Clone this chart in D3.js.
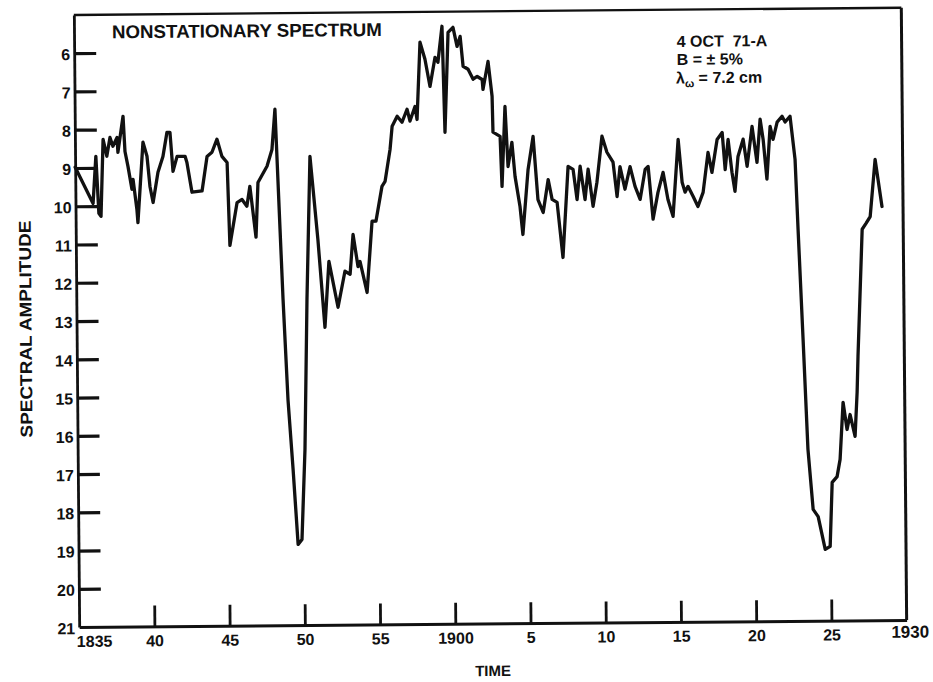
<!DOCTYPE html>
<html>
<head>
<meta charset="utf-8">
<script src="https://cdn.jsdelivr.net/npm/d3@7"></script>
<style>
  html, body { margin: 0; padding: 0; background: #fff; }
  svg { display: block; }
  text { font-family: "Liberation Sans", Arial, Helvetica, sans-serif; font-weight: bold; fill: #111; }
</style>
</head>
<body>
<svg id="chart" width="933" height="682"></svg>
<script>
// Spectral amplitude through time (years on the plot's time axis)
const years = [
  1875.00, 1876.17, 1876.38, 1876.55, 1876.69, 1876.87, 1877.11, 1877.33, 1877.52, 1877.80,
  1877.85, 1878.21, 1878.32, 1878.51, 1878.76, 1878.84, 1879.08, 1879.14, 1879.52, 1879.78,
  1879.96, 1880.16, 1880.50, 1880.84, 1881.12, 1881.32, 1881.50, 1881.78, 1882.31, 1882.43,
  1882.75, 1883.42, 1883.77, 1884.10, 1884.44, 1884.76, 1885.10, 1885.24, 1885.74, 1886.07,
  1886.39, 1886.60, 1886.98, 1887.14, 1887.75, 1888.09, 1888.31, 1888.58, 1888.74, 1889.01,
  1889.31, 1889.60, 1889.86, 1890.11, 1890.33, 1890.61, 1891.09, 1891.51, 1891.81, 1892.39,
  1892.87, 1893.21, 1893.43, 1893.74, 1893.88, 1894.33, 1894.70, 1894.96, 1895.38, 1895.59,
  1895.94, 1896.09, 1896.43, 1896.75, 1897.09, 1897.28, 1897.62, 1897.75, 1897.99, 1898.31,
  1898.63, 1898.98, 1899.17, 1899.46, 1899.60, 1899.86, 1900.19, 1900.45, 1900.66, 1900.84,
  1901.17, 1901.50, 1901.77, 1902.10, 1902.15, 1902.50, 1902.75, 1902.79, 1903.26, 1903.36,
  1903.60, 1903.77, 1904.04, 1904.23, 1904.54, 1904.72, 1905.10, 1905.45, 1905.74, 1906.08,
  1906.43, 1906.68, 1907.01, 1907.37, 1907.76, 1908.09, 1908.34, 1908.56, 1908.87, 1909.09,
  1909.40, 1909.67, 1910.03, 1910.35, 1910.75, 1911.00, 1911.21, 1911.53, 1911.88, 1912.20,
  1912.53, 1912.88, 1913.08, 1913.38, 1913.72, 1914.07, 1914.38, 1914.71, 1915.09, 1915.33,
  1915.52, 1915.72, 1916.05, 1916.37, 1916.72, 1917.07, 1917.32, 1917.68, 1918.02, 1918.20,
  1918.41, 1918.65, 1918.84, 1919.06, 1919.41, 1919.66, 1920.01, 1920.32, 1920.55, 1920.74,
  1920.97, 1921.21, 1921.40, 1921.68, 1922.01, 1922.21, 1922.54, 1922.85, 1923.01, 1923.28,
  1923.54, 1923.85, 1924.18, 1924.63, 1924.96, 1925.13, 1925.46, 1925.67, 1925.90, 1926.15,
  1926.36, 1926.68, 1926.84, 1926.92, 1927.27, 1927.53, 1927.81, 1928.17, 1928.60
];
const amplitude = [
  8.98, 9.93, 8.70, 10.19, 10.27, 8.26, 8.70, 8.21, 8.44, 8.21,
  8.60, 7.66, 8.58, 8.97, 9.57, 9.31, 10.10, 10.44, 8.34, 8.71,
  9.50, 9.92, 9.13, 8.72, 8.09, 8.09, 9.11, 8.72, 8.72, 8.88,
  9.66, 9.63, 8.73, 8.62, 8.28, 8.73, 8.89, 11.06, 9.94, 9.86,
  10.04, 9.52, 10.85, 9.42, 9.00, 8.56, 7.51, 10.65, 12.48, 15.10,
  16.93, 18.89, 18.76, 16.41, 12.49, 8.75, 10.92, 13.22, 11.50, 12.70,
  11.76, 11.84, 10.80, 11.64, 11.51, 12.32, 10.46, 10.46, 9.55, 9.42,
  8.58, 7.98, 7.72, 7.88, 7.54, 7.85, 7.47, 7.81, 5.79, 6.24,
  6.95, 6.19, 6.32, 5.38, 8.15, 5.54, 5.41, 5.91, 5.65, 6.43,
  6.51, 6.77, 6.70, 6.78, 7.04, 6.31, 7.22, 8.16, 8.27, 9.58,
  7.49, 9.06, 8.43, 9.32, 10.10, 10.84, 9.14, 8.28, 9.93, 10.27,
  9.41, 9.93, 10.01, 11.45, 9.07, 9.15, 9.94, 9.07, 9.94, 9.15,
  10.12, 9.49, 8.29, 8.71, 8.97, 9.87, 9.09, 9.68, 9.09, 9.61,
  9.95, 9.17, 9.09, 10.47, 9.77, 9.25, 9.96, 10.40, 8.39, 9.51,
  9.77, 9.62, 9.88, 10.15, 9.78, 8.74, 9.26, 8.40, 8.22, 9.19,
  8.40, 9.26, 9.76, 8.85, 8.40, 9.11, 8.07, 9.01, 7.88, 8.41,
  9.45, 8.07, 8.41, 7.96, 7.81, 7.96, 7.81, 8.94, 10.77, 13.65,
  16.52, 18.09, 18.28, 19.14, 19.06, 17.39, 17.24, 16.79, 15.30, 16.01,
  15.62, 16.19, 15.04, 14.10, 10.78, 10.63, 10.45, 8.96, 10.19
];

const amplitudeTicks = [6, 7, 8, 9, 10, 11, 12, 13, 14, 15, 16, 17, 18, 19, 20, 21];
const timeTicks = [1875, 1880, 1885, 1890, 1895, 1900, 1905, 1910, 1915, 1920, 1925, 1930];
const timeLabels = ["1835", "40", "45", "50", "55", "1900", "5", "10", "15", "20", "25", "1930"];

const frame = { left: 76.5, right: 904, top: 11.3, bottom: 623.5 };
const ink = "#111";

const x = d3.scaleLinear().domain([1875, 1930]).range([frame.left, frame.right]);
const y = d3.scaleLinear().domain([5, 21]).range([frame.top, frame.bottom]);

const svg = d3.select("#chart");
svg.append("rect").attr("width", 933).attr("height", 682).attr("fill", "#fff");

// the sheet sits a little askew
const g = svg.append("g").attr("transform", "rotate(-0.5, 492, 318)");

// frame: top and right edges
g.append("line")
  .attr("x1", frame.left).attr("y1", frame.top)
  .attr("x2", frame.right).attr("y2", frame.top)
  .attr("stroke", ink).attr("stroke-width", 2.4);
g.append("line")
  .attr("x1", frame.right).attr("y1", frame.top)
  .attr("x2", frame.right).attr("y2", frame.bottom)
  .attr("stroke", ink).attr("stroke-width", 3);

// amplitude axis: ticks point inward, labels outside
const yAxis = d3.axisLeft(y)
  .tickValues(amplitudeTicks)
  .tickSizeInner(-22)
  .tickSizeOuter(0)
  .tickPadding(4)
  .tickFormat(d3.format("d"));
const yg = g.append("g").attr("transform", `translate(${frame.left},0)`).call(yAxis);
yg.select(".domain").attr("stroke", ink).attr("stroke-width", 2.8);
yg.selectAll(".tick line").attr("stroke", ink).attr("stroke-width", 3.2)
  .filter(d => d === 21).remove();
yg.selectAll(".tick text")
  .attr("font-size", 16).attr("font-family", null).attr("fill", ink)
  .attr("dy", "0.4em");

// time axis
const xAxis = d3.axisBottom(x)
  .tickValues(timeTicks)
  .tickSizeInner(-21)
  .tickSizeOuter(0)
  .tickPadding(8.5)
  .tickFormat((d, i) => timeLabels[i]);
const xg = g.append("g").attr("transform", `translate(0,${frame.bottom})`).call(xAxis);
xg.select(".domain").attr("stroke", ink).attr("stroke-width", 3);
xg.selectAll(".tick line").attr("stroke", ink).attr("stroke-width", 2.8)
  .filter(d => d === 1875 || d === 1930).remove();
xg.selectAll(".tick text")
  .attr("font-size", 16).attr("font-family", null).attr("fill", ink);
xg.selectAll(".tick text").filter(d => d === 1875)
  .attr("text-anchor", "start").attr("x", -3);
xg.selectAll(".tick text").filter(d => d === 1930)
  .attr("x", 3).attr("dy", "0.55em").attr("font-size", 17);

// the series
const line = d3.line()
  .x((d, i) => x(years[i]))
  .y(d => y(d));
g.append("path")
  .datum(amplitude)
  .attr("d", line)
  .attr("fill", "none")
  .attr("stroke", ink)
  .attr("stroke-width", 3.3)
  .attr("stroke-linejoin", "round")
  .attr("stroke-linecap", "round");

// titles and notes
g.append("text")
  .attr("x", 114.4).attr("y", 35)
  .attr("font-size", 18.5)
  .attr("textLength", 270).attr("lengthAdjust", "spacingAndGlyphs")
  .text("NONSTATIONARY SPECTRUM");

const note = g.append("text").attr("font-size", 16).attr("xml:space", "preserve");
note.append("tspan").attr("x", 679).attr("y", 48.5).text("4 OCT  71-A");
note.append("tspan").attr("x", 679).attr("y", 66.5).text("B = \u00B1 5%");
note.append("tspan").attr("x", 678).attr("y", 85).text("\u03BB");
note.append("tspan").attr("dy", 4).attr("font-size", 11).text("\u03C9");
note.append("tspan").attr("dy", -4).text(" = 7.2 cm");

g.append("text")
  .attr("transform", "translate(31.5,325) rotate(-90)")
  .attr("text-anchor", "middle")
  .attr("font-size", 17)
  .attr("textLength", 217).attr("lengthAdjust", "spacingAndGlyphs")
  .text("SPECTRAL AMPLITUDE");

g.append("text")
  .attr("x", 490).attr("y", 676)
  .attr("text-anchor", "middle")
  .attr("font-size", 15)
  .text("TIME");
</script>
</body>
</html>
